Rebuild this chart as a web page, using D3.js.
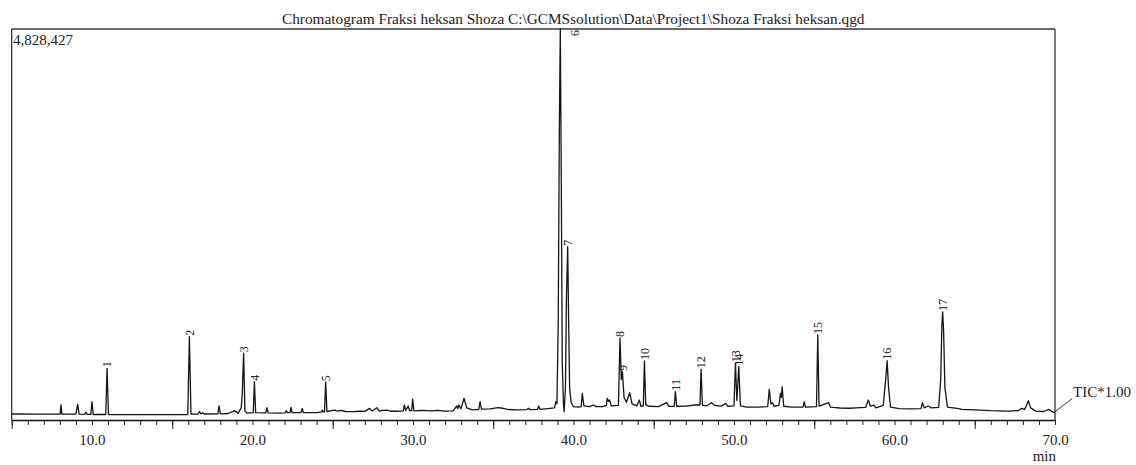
<!DOCTYPE html>
<html>
<head>
<meta charset="utf-8">
<script src="https://cdn.jsdelivr.net/npm/d3@7"></script>
<style>
  body { margin: 0; background: #fff; }
  text { font-family: "Liberation Serif", "Times New Roman", serif; fill: #222; }
</style>
</head>
<body>
<svg id="chart"></svg>
<script>
// --- data ---
const chartTitle = "Chromatogram Fraksi heksan Shoza C:\\GCMSsolution\\Data\\Project1\\Shoza Fraksi heksan.qgd";
const maxIntensity = 4828427;
const timeRange = [5, 70];
const xTickValues = [10, 20, 30, 40, 50, 60, 70];
const traceName = "TIC*1.00";

// [retention time (min), intensity]
const ticTrace = [
  [5.0, 74000], [6.5, 72000], [7.9, 72000], [8.02, 74000], [8.07, 185000], [8.13, 72000],
  [9.0, 72000], [9.11, 194000], [9.2, 72000], [9.55, 70000], [9.62, 98000], [9.7, 70000],
  [9.93, 70000], [10.0, 226000], [10.08, 68000], [10.86, 68000], [10.94, 638000], [11.03, 68000],
  [12.5, 66000], [14.0, 66000], [15.97, 68000], [16.07, 1029000], [16.17, 72000], [16.62, 74000],
  [16.7, 103000], [16.8, 74000], [16.9, 90000], [17.0, 74000], [17.85, 76000], [17.92, 173000],
  [18.0, 76000], [18.5, 80000], [18.9, 115000], [19.1, 82000], [19.3, 150000], [19.36, 296000],
  [19.45, 824000], [19.53, 110000], [19.65, 86000], [20.05, 90000], [20.12, 473000], [20.2, 90000],
  [20.84, 88000], [20.9, 152000], [20.98, 88000], [21.6, 86000], [22.05, 88000], [22.1, 115000],
  [22.18, 90000], [22.34, 90000], [22.4, 157000], [22.47, 92000], [23.03, 90000], [23.1, 144000],
  [23.17, 90000], [24.0, 92000], [24.3, 100000], [24.35, 123000], [24.4, 100000], [24.49, 100000],
  [24.56, 466000], [24.64, 105000], [25.1, 123000], [25.3, 110000], [25.5, 118000], [25.8, 105000],
  [26.3, 103000], [26.7, 108000], [27.0, 106000], [27.3, 144000], [27.45, 110000], [27.75, 152000],
  [27.9, 110000], [28.1, 120000], [28.4, 123000], [28.6, 108000], [29.0, 108000], [29.4, 112000],
  [29.46, 185000], [29.55, 118000], [29.7, 173000], [29.8, 115000], [29.92, 115000], [29.98, 256000],
  [30.06, 112000], [30.5, 118000], [31.2, 112000], [31.5, 118000], [32.0, 110000], [32.5, 112000],
  [32.73, 173000], [32.8, 140000], [32.85, 185000], [33.0, 140000], [33.18, 268000], [33.35, 150000],
  [33.7, 125000], [34.1, 130000], [34.18, 226000], [34.27, 135000], [34.8, 138000], [35.3, 152000],
  [35.6, 145000], [35.9, 130000], [36.5, 125000], [37.1, 128000], [37.19, 144000], [37.3, 128000],
  [37.75, 130000], [37.83, 173000], [37.92, 130000], [38.4, 140000], [38.82, 150000], [38.9, 226000],
  [38.97, 200000], [39.05, 1200000], [39.12, 3600000], [39.18, 4828427], [39.24, 3000000], [39.3, 700000],
  [39.38, 180000], [39.42, 103000], [39.5, 400000], [39.56, 1500000], [39.64, 2140000], [39.7, 1200000],
  [39.76, 400000], [39.85, 220000], [40.0, 164000], [40.3, 160000], [40.48, 165000], [40.55, 330000],
  [40.65, 175000], [41.0, 165000], [41.25, 185000], [41.4, 165000], [41.8, 165000], [42.05, 180000],
  [42.1, 268000], [42.18, 230000], [42.25, 247000], [42.35, 175000], [42.8, 180000], [42.9, 1013000],
  [42.98, 500000], [43.05, 593000], [43.15, 280000], [43.3, 220000], [43.5, 337000], [43.65, 200000],
  [43.95, 175000], [44.1, 247000], [44.2, 170000], [44.35, 175000], [44.42, 729000], [44.5, 190000],
  [44.7, 170000], [45.3, 165000], [45.8, 214000], [45.95, 168000], [46.28, 170000], [46.35, 350000],
  [46.43, 170000], [47.0, 172000], [47.6, 185000], [47.88, 185000], [47.95, 626000], [48.03, 185000],
  [48.3, 175000], [48.6, 214000], [48.8, 180000], [49.2, 172000], [49.5, 206000], [49.6, 170000],
  [50.0, 175000], [50.09, 700000], [50.18, 240000], [50.3, 658000], [50.4, 175000], [50.8, 160000],
  [51.5, 158000], [52.1, 165000], [52.2, 379000], [52.3, 200000], [52.4, 214000], [52.5, 170000],
  [52.8, 180000], [52.9, 330000], [52.95, 280000], [53.0, 411000], [53.1, 170000], [53.6, 158000],
  [54.3, 160000], [54.38, 226000], [54.45, 160000], [55.14, 165000], [55.22, 1050000], [55.3, 170000],
  [55.9, 214000], [56.0, 160000], [56.2, 155000], [56.6, 148000], [57.2, 145000], [57.6, 150000],
  [58.2, 155000], [58.37, 247000], [58.5, 170000], [58.7, 185000], [58.85, 150000], [59.3, 180000],
  [59.45, 500000], [59.54, 732000], [59.63, 400000], [59.75, 160000], [60.3, 140000], [61.0, 138000],
  [61.65, 140000], [61.74, 214000], [61.85, 150000], [62.1, 173000], [62.3, 150000], [62.75, 155000],
  [62.88, 500000], [62.95, 1150000], [63.0, 1334000], [63.06, 1100000], [63.14, 400000], [63.3, 160000],
  [63.9, 144000], [64.2, 130000], [65.0, 125000], [66.0, 115000], [67.0, 110000], [67.7, 115000],
  [67.93, 144000], [68.1, 130000], [68.2, 170000], [68.34, 238000], [68.48, 150000], [68.8, 110000],
  [69.3, 105000], [69.6, 132000], [69.85, 100000], [70.0, 90000]
];

// [peak number, retention time]
const peakLabels = [
  [1, 10.94], [2, 16.07], [3, 19.45], [4, 20.12], [5, 24.56], [6, 39.18], [7, 39.64],
  [8, 42.9], [9, 43.05], [10, 44.42], [11, 46.35], [12, 47.95], [13, 50.09], [14, 50.3],
  [15, 55.22], [16, 59.54], [17, 63.0]
];

// --- layout ---
const width = 1136, height = 465;
const plot = { left: 11.7, right: 1055, top: 29, bottom: 420 };

const svg = d3.select('#chart')
  .attr('width', width)
  .attr('height', height);

const x = d3.scaleLinear().domain(timeRange).range([plot.left, plot.right]);
const y = d3.scaleLinear().domain([0, maxIntensity]).range([plot.bottom, plot.top]);

svg.append('defs').append('clipPath').attr('id', 'plotClip')
  .append('rect')
  .attr('x', plot.left).attr('y', plot.top)
  .attr('width', plot.right - plot.left).attr('height', plot.bottom - plot.top);

// title
svg.append('text')
  .attr('x', 282)
  .attr('y', 24)
  .style('font-size', '15.3px')
  .text(chartTitle);

// frame
svg.append('line')
  .attr('x1', plot.left).attr('x2', plot.right)
  .attr('y1', plot.top).attr('y2', plot.top)
  .attr('stroke', '#6a6a6a').attr('stroke-width', 2);
svg.append('line')
  .attr('x1', plot.left).attr('x2', plot.left)
  .attr('y1', plot.top).attr('y2', plot.bottom)
  .attr('stroke', '#222').attr('stroke-width', 1.2);
svg.append('line')
  .attr('x1', plot.right).attr('x2', plot.right)
  .attr('y1', plot.top).attr('y2', plot.bottom)
  .attr('stroke', '#222').attr('stroke-width', 1.2);

// max value label
svg.append('text')
  .attr('x', 13)
  .attr('y', 45)
  .style('font-size', '15px')
  .text(d3.format(',')(maxIntensity));

// x axis: minor ticks every minute, longer ticks halfway between labels
const minorAxis = d3.axisBottom(x)
  .tickValues(d3.range(timeRange[0], timeRange[1] + 1, 1))
  .tickSize(5)
  .tickFormat('');
svg.append('g')
  .attr('class', 'minor-axis')
  .attr('transform', 'translate(0,' + plot.bottom + ')')
  .call(minorAxis)
  .call(g => g.select('.domain').remove())
  .selectAll('line').attr('stroke', '#222');

const midAxis = d3.axisBottom(x)
  .tickValues(d3.range(timeRange[0], timeRange[1], 10))
  .tickSize(9)
  .tickFormat('');
svg.append('g')
  .attr('class', 'mid-axis')
  .attr('transform', 'translate(0,' + plot.bottom + ')')
  .call(midAxis)
  .call(g => g.select('.domain').remove())
  .selectAll('line').attr('stroke', '#222');

const xAxis = d3.axisBottom(x)
  .tickValues(xTickValues)
  .tickSize(0)
  .tickPadding(14)
  .tickFormat(d3.format('.1f'));
const xAxisG = svg.append('g')
  .attr('class', 'x-axis')
  .attr('transform', 'translate(0,' + plot.bottom + ')')
  .call(xAxis);
xAxisG.select('.domain').attr('stroke', '#111').attr('stroke-width', 1.3);
xAxisG.selectAll('text')
  .style('font-size', '15px')
  .style('font-family', '"Liberation Serif", "Times New Roman", serif')
  .attr('fill', '#222');

svg.append('text')
  .attr('x', plot.right + 1)
  .attr('y', 461)
  .attr('text-anchor', 'end')
  .style('font-size', '15px')
  .text('min');

// trace
const line = d3.line()
  .x(d => x(d[0]))
  .y(d => y(d[1]));

svg.append('path')
  .datum(ticTrace)
  .attr('d', line)
  .attr('fill', 'none')
  .attr('stroke', '#151515')
  .attr('stroke-width', 1.3)
  .attr('stroke-linejoin', 'round');

// peak numbers
const labelG = svg.append('g')
  .attr('class', 'peak-labels')
  .attr('clip-path', 'url(#plotClip)');

peakLabels.forEach(([num, rt]) => {
  const apex = d3.least(ticTrace, d => Math.abs(d[0] - rt));
  let px = x(apex[0]);
  let py = y(apex[1]) - 1;
  if (py < plot.top + 12) {   // no room above the apex: set it beside the peak
    px += 14;
    py = plot.top + 7;
  }
  labelG.append('text')
    .attr('transform', 'translate(' + px + ',' + py + ') rotate(-90)')
    .attr('dy', '0.35em')
    .attr('text-anchor', 'start')
    .style('font-size', '12px')
    .text(num);
});

// trace name tag
const last = ticTrace[ticTrace.length - 1];
svg.append('line')
  .attr('x1', x(last[0])).attr('y1', y(last[1]) - 1)
  .attr('x2', x(last[0]) + 17).attr('y2', y(last[1]) - 14)
  .attr('stroke', '#333').attr('stroke-width', 1);
svg.append('text')
  .attr('x', x(last[0]) + 18)
  .attr('y', 397)
  .style('font-size', '15px')
  .text(traceName);
</script>
</body>
</html>
